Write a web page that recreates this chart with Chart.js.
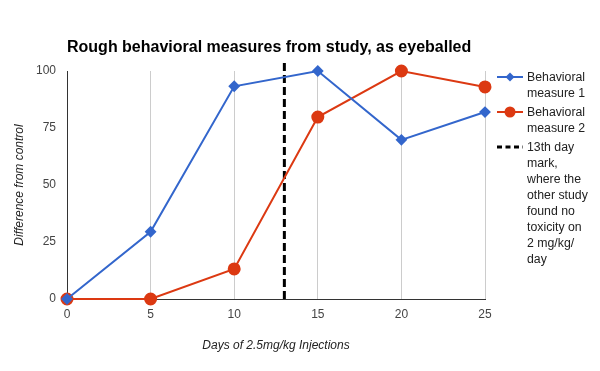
<!DOCTYPE html>
<html>
<head>
<meta charset="utf-8">
<script src="https://cdn.jsdelivr.net/npm/chart.js@4.4.0/dist/chart.umd.min.js"></script>
<style>
    html, body { margin: 0; padding: 0; background: #fff; }
    #wrap { position: relative; width: 600px; height: 371px; font-family: "Liberation Sans", Arial, sans-serif; }
    #legend { position: absolute; left: 497px; top: 69px; width: 103px; font-size: 12.3px; color: #222; line-height: 16px; }
    .item { display: flex; margin-bottom: 3px; }
    .key { flex: 0 0 26px; height: 16px; position: relative; }
    .key canvas { position: absolute; left: 0; top: 0; }
    .txt { padding-left: 4px; width: 63px; }
</style>
</head>
<body>
<div id="wrap">
    <canvas id="chart" width="600" height="371"></canvas>
    <div id="legend"></div>
</div>
<script>
const titleText = 'Rough behavioral measures from study, as eyeballed';
const days = [0, 5, 10, 15, 20, 25];
const measure1 = [0, 29.5, 93.3, 100, 69.8, 82];
const measure2 = [0, 0, 13.2, 79.8, 100, 93];
const markDay = 13;
const markRange = [0, 103.5];
const seriesNames = ['Behavioral measure 1', 'Behavioral measure 2',
    '13th day mark, where the other study found no toxicity on 2 mg/kg/ day'];
const yTicks = [0, 25, 50, 75, 100];

const BLUE = '#3366cc';
const RED = '#dc3912';

const toPoints = (vals) => vals.map((v, i) => ({ x: days[i], y: v }));

// title drawn directly so it lines up with the plot's left edge
const titlePlugin = {
    id: 'leftTitle',
    afterDraw(chart) {
        const c = chart.ctx;
        c.save();
        c.font = 'bold 16px "Liberation Sans", Arial, sans-serif';
        c.fillStyle = '#000';
        c.textBaseline = 'alphabetic';
        c.fillText(titleText, chart.chartArea.left, 52);
        c.restore();
    }
};

new Chart(document.getElementById('chart').getContext('2d'), {
    type: 'line',
    data: {
        datasets: [{
            label: seriesNames[0],
            data: toPoints(measure1),
            borderColor: BLUE,
            backgroundColor: BLUE,
            borderWidth: 2,
            pointStyle: 'rectRot',
            pointRadius: 4.5,
            pointHoverRadius: 4.5,
            clip: false
        }, {
            label: seriesNames[1],
            data: toPoints(measure2),
            borderColor: RED,
            backgroundColor: RED,
            borderWidth: 2,
            pointStyle: 'circle',
            pointRadius: 5.5,
            pointHoverRadius: 5.5,
            clip: false
        }, {
            label: seriesNames[2],
            data: markRange.map(v => ({ x: markDay, y: v })),
            borderColor: '#000',
            borderWidth: 3,
            borderDash: [8, 4],
            pointRadius: 0,
            clip: false
        }]
    },
    options: {
        responsive: false,
        animation: false,
        layout: { padding: { top: 71, right: 115, left: 0, bottom: 0 } },
        plugins: { legend: { display: false }, tooltip: { enabled: false } },
        scales: {
            x: {
                type: 'linear',
                min: 0, max: 25,
                afterBuildTicks: (s) => { s.ticks = days.map(v => ({ value: v })); },
                afterFit: (s) => { s.height = 72; },
                grid: {
                    color: (ctx) => ctx.tick && ctx.tick.value === 0 ? 'rgba(0,0,0,0)' : '#cccccc',
                    drawTicks: false,
                    lineWidth: 1
                },
                border: { color: '#333', width: 1 },
                ticks: { color: '#444', font: { size: 12, family: '"Liberation Sans", Arial' }, padding: 8 },
                title: {
                    display: true,
                    text: 'Days of 2.5mg/kg Injections',
                    color: '#222',
                    font: { size: 12, style: 'italic', family: '"Liberation Sans", Arial' },
                    padding: { top: 0, bottom: 18 }
                }
            },
            y: {
                min: 0, max: 100,
                afterBuildTicks: (s) => { s.ticks = yTicks.map(v => ({ value: v })); },
                afterFit: (s) => { s.width = 67; },
                grid: { display: false, drawTicks: false },
                border: { color: '#333', width: 1 },
                ticks: { color: '#444', font: { size: 12, family: '"Liberation Sans", Arial' }, padding: 11 },
                title: {
                    display: true,
                    text: 'Difference from control',
                    color: '#222',
                    font: { size: 12, style: 'italic', family: '"Liberation Sans", Arial' },
                    padding: { top: 12, bottom: 0 }
                }
            }
        }
    },
    plugins: [titlePlugin]
});

// html legend so the long label can wrap like the original
const legend = document.getElementById('legend');
seriesNames.forEach((name, i) => {
    const item = document.createElement('div');
    item.className = 'item';
    const key = document.createElement('div');
    key.className = 'key';
    const kc = document.createElement('canvas');
    kc.width = 26; kc.height = 16;
    const k = kc.getContext('2d');
    if (i === 2) {
        k.strokeStyle = '#000';
        k.lineWidth = 3;
        k.setLineDash([5, 3.5]);
        k.beginPath(); k.moveTo(0, 8); k.lineTo(26, 8); k.stroke();
    } else {
        const col = i === 0 ? BLUE : RED;
        k.strokeStyle = col; k.fillStyle = col;
        k.lineWidth = 2;
        k.beginPath(); k.moveTo(0, 8); k.lineTo(26, 8); k.stroke();
        k.beginPath();
        if (i === 0) {
            k.moveTo(13, 3.5); k.lineTo(17.5, 8); k.lineTo(13, 12.5); k.lineTo(8.5, 8); k.closePath();
        } else {
            k.arc(13, 8, 5.5, 0, Math.PI * 2);
        }
        k.fill();
    }
    key.appendChild(kc);
    const txt = document.createElement('div');
    txt.className = 'txt';
    txt.textContent = name;
    item.appendChild(key);
    item.appendChild(txt);
    legend.appendChild(item);
});
</script>
</body>
</html>
